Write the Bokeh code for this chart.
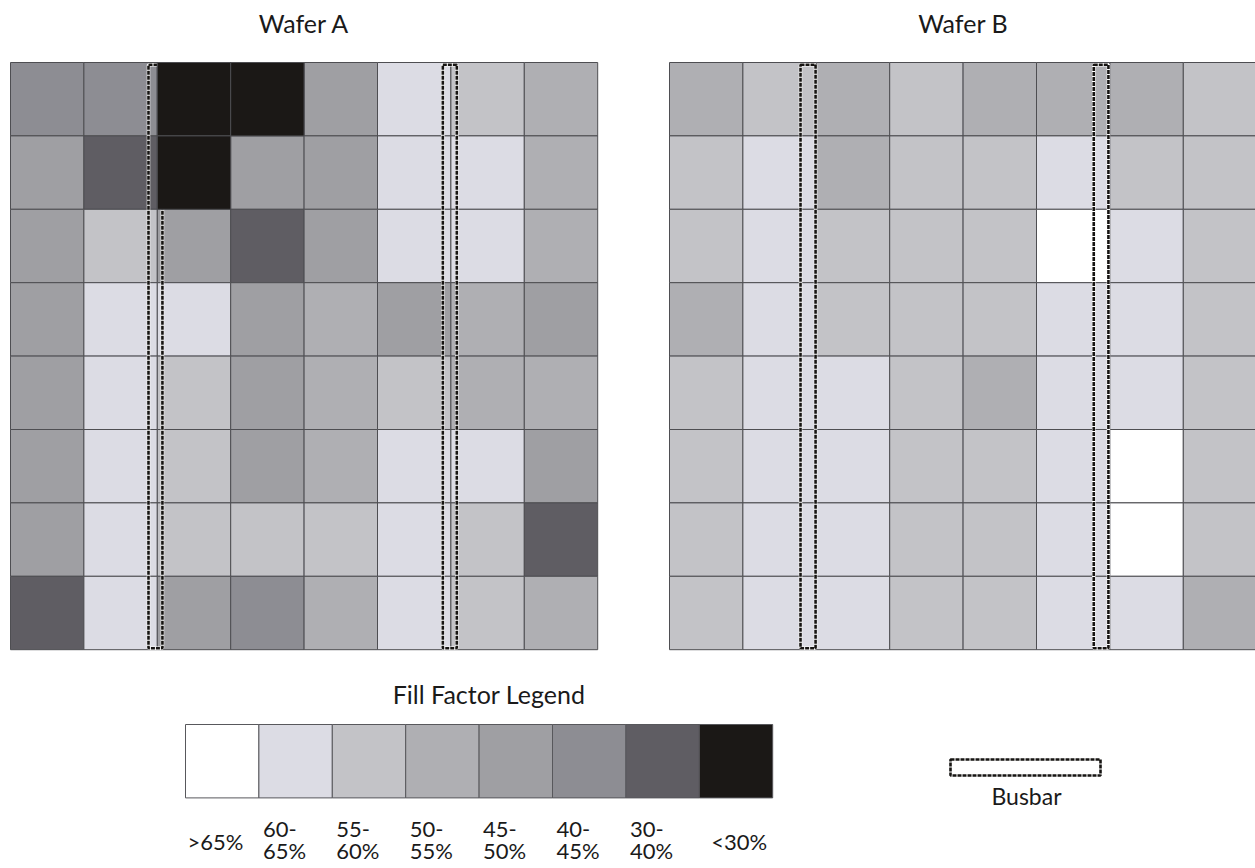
from bokeh.plotting import figure
from bokeh.models import Range1d, ColumnDataSource
from bokeh.core.properties import value
from bokeh.embed import file_html
from bokeh.resources import INLINE

# ---------------- data ----------------
levels = [">65%", "60-65%", "55-60%", "50-55%", "45-50%", "40-45%", "30-40%", "<30%"]
level_colors = ["#ffffff", "#dcdce4", "#c3c3c7", "#afafb3", "#9f9fa3", "#8d8d93", "#5f5d63", "#1b1816"]
label_line1 = [">65%", "60-", "55-", "50-", "45-", "40-", "30-", "<30%"]
label_line2 = ["", "65%", "60%", "55%", "50%", "45%", "40%", ""]

# level index per cell (row 0 = top), 0 = >65% ... 7 = <30%
wafer_a = [
    [5, 5, 7, 7, 4, 1, 2, 3],
    [4, 6, 7, 4, 4, 1, 1, 3],
    [4, 2, 4, 6, 4, 1, 1, 3],
    [4, 1, 1, 4, 3, 4, 3, 4],
    [4, 1, 2, 4, 3, 2, 3, 3],
    [4, 1, 2, 4, 3, 1, 1, 4],
    [4, 1, 2, 2, 2, 1, 2, 6],
    [6, 1, 4, 5, 3, 1, 2, 3],
]
wafer_b = [
    [3, 2, 3, 2, 3, 3, 3, 2],
    [2, 1, 3, 2, 2, 1, 2, 2],
    [2, 1, 2, 2, 2, 0, 1, 2],
    [3, 1, 2, 2, 2, 1, 1, 2],
    [2, 1, 1, 2, 3, 1, 1, 2],
    [2, 1, 1, 2, 2, 1, 0, 2],
    [2, 1, 1, 2, 2, 1, 0, 2],
    [2, 1, 1, 2, 2, 1, 1, 3],
]
wafer_titles = ["Wafer A", "Wafer B"]
# busbar extents in cell units (left, right) per wafer
busbars_a = [(1.88, 2.07), (5.89, 6.08)]
busbars_b = [(1.785, 1.99), (5.78, 5.98)]

# ---------------- layout ----------------
W, H = 1255, 868
CELL = 73.4
GRID_Y0 = 62
A_X0 = 10
B_X0 = 669
LEG_X0 = 185
LEG_Y0 = 724
FONT = value("Lato")
GRID_LINE = "#4e4e52"
TXT = "#1a1a1a"

p = figure(width=W, height=H, x_range=Range1d(0, W), y_range=Range1d(H, 0),
           output_backend="svg", toolbar_location=None, min_border=0)
p.axis.visible = False
p.grid.visible = False
p.outline_line_color = None
p.background_fill_color = "white"
p.border_fill_color = "white"


def wafer_source(grid, x0, only_level=None):
    xs, ys, cs = [], [], []
    for r, row in enumerate(grid):
        for c, lv in enumerate(row):
            if only_level is not None and lv != only_level:
                continue
            xs.append(x0 + (c + 0.5) * CELL)
            ys.append(GRID_Y0 + (r + 0.5) * CELL)
            cs.append(level_colors[lv])
    return ColumnDataSource(dict(x=xs, y=ys, color=cs))


def busbar_source(bars, x0):
    xs, ws, ys, hs = [], [], [], []
    for (l, rgt) in bars:
        xs.append(x0 + (l + rgt) / 2 * CELL)
        ws.append((rgt - l) * CELL)
        ys.append(GRID_Y0 + (0.03 + 7.98) / 2 * CELL)
        hs.append((7.98 - 0.03) * CELL)
    return ColumnDataSource(dict(x=xs, y=ys, w=ws, h=hs))


def draw_busbars(src):
    p.rect(x="x", y="y", width="w", height="h", source=src, fill_color=None,
           line_color="white", line_width=3.5)
    p.rect(x="x", y="y", width="w", height="h", source=src, fill_color=None,
           line_color="#161412", line_width=2.6, line_dash="4 1")


for grid, x0, bars in [(wafer_a, A_X0, busbars_a), (wafer_b, B_X0, busbars_b)]:
    p.rect(x="x", y="y", width=CELL, height=CELL, source=wafer_source(grid, x0),
           fill_color="color", line_color=GRID_LINE, line_width=1)
    draw_busbars(busbar_source(bars, x0))
    # darkest cells sit over the busbar in the original
    p.rect(x="x", y="y", width=CELL, height=CELL, source=wafer_source(grid, x0, only_level=7),
           fill_color="color", line_color=GRID_LINE, line_width=1)

# titles
p.text(x=[A_X0 + 4 * CELL, B_X0 + 4 * CELL], y=[22, 22], text=wafer_titles,
       text_font=FONT, text_font_size="25px", text_color=TXT,
       text_align="center", text_baseline="middle")

# fill factor legend
p.text(x=[LEG_X0 + 4 * CELL + 10], y=[693], text=["Fill Factor Legend"],
       text_font=FONT, text_font_size="25px", text_color=TXT,
       text_align="center", text_baseline="middle")
leg = ColumnDataSource(dict(
    x=[LEG_X0 + (i + 0.5) * CELL for i in range(len(levels))],
    y=[LEG_Y0 + 0.5 * CELL] * len(levels),
    color=level_colors,
))
p.rect(x="x", y="y", width=CELL, height=CELL, source=leg, fill_color="color",
       line_color="#58585c", line_width=1)

label_dx = [2, 4, 4, 4, 4, 4, 4, 12]
one_line = [i for i in range(len(levels)) if label_line2[i] == ""]
two_line = [i for i in range(len(levels)) if label_line2[i] != ""]
p.text(x=[LEG_X0 + i * CELL + label_dx[i] for i in one_line], y=[841] * len(one_line),
       text=[label_line1[i] for i in one_line], text_font=FONT, text_font_size="22px",
       text_color=TXT, text_align="left", text_baseline="middle")
p.text(x=[LEG_X0 + i * CELL + label_dx[i] for i in two_line], y=[829] * len(two_line),
       text=[label_line1[i] for i in two_line], text_font=FONT, text_font_size="22px",
       text_color=TXT, text_align="left", text_baseline="middle")
p.text(x=[LEG_X0 + i * CELL + label_dx[i] for i in two_line], y=[850] * len(two_line),
       text=[label_line2[i] for i in two_line], text_font=FONT, text_font_size="22px",
       text_color=TXT, text_align="left", text_baseline="middle")

# busbar legend
bb = ColumnDataSource(dict(x=[1025], y=[767], w=[150], h=[16]))
draw_busbars(bb)
p.text(x=[1026], y=[795], text=["Busbar"], text_font=FONT, text_font_size="23px",
       text_color=TXT, text_align="center", text_baseline="middle")

open("out.html", "w").write(file_html(p, INLINE))
